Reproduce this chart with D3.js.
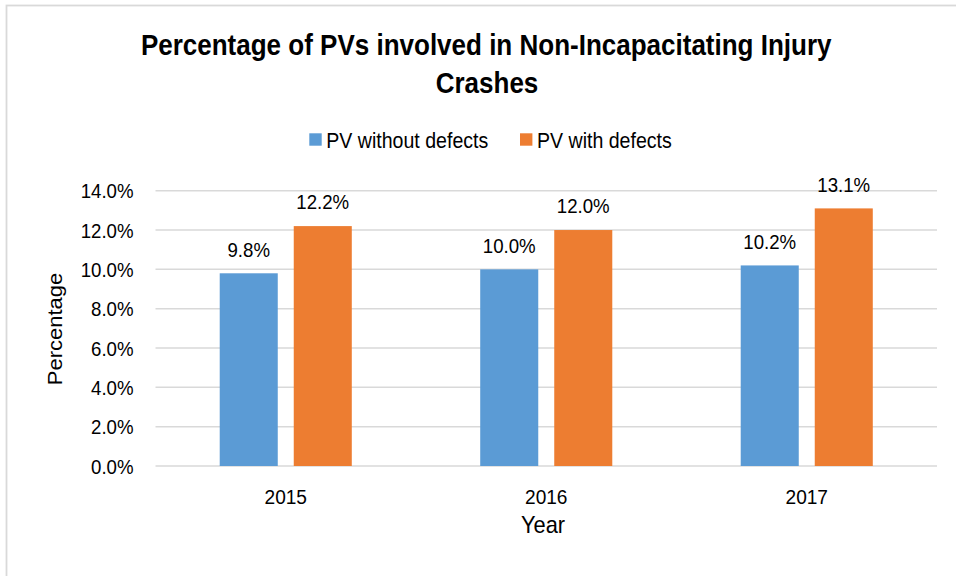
<!DOCTYPE html>
<html>
<head>
<meta charset="utf-8">
<script src="https://cdn.jsdelivr.net/npm/d3@7"></script>
<style>
  body { margin: 0; background: #fff; }
  text { font-family: "Liberation Sans", Arial, sans-serif; fill: #000; }
</style>
</head>
<body>
<svg width="956" height="576"></svg>
<script>
var years = ["2015", "2016", "2017"];
var seriesNames = ["PV without defects", "PV with defects"];
var withoutDefects = [9.8, 10.0, 10.2];
var withDefects = [12.2, 12.0, 13.1];
var yTicks = [0, 2, 4, 6, 8, 10, 12, 14];
var colors = ["#5b9bd5", "#ed7d31"];

var svg = d3.select("svg"),
    margin = {top: 190.7, right: 19, bottom: 110, left: 155.5},
    width = 956 - margin.left - margin.right,
    height = 466 - margin.top;
// text in the picture is a bit narrower than normal Arial
var squeeze = 0.91;

// frame round the chart, only top and left visible
svg.append("rect")
    .attr("x", 6.5).attr("y", 5.5)
    .attr("width", 1200).attr("height", 1200)
    .attr("fill", "none")
    .attr("stroke", "#d9d9d9")
    .attr("stroke-width", 1.8);

var x0 = d3.scaleBand().domain(years).range([0, width])
    .paddingInner(0.493).paddingOuter(0.2465);
var x1 = d3.scaleBand().domain(seriesNames).range([0, x0.bandwidth()])
    .paddingInner(0.216);
var y = d3.scaleLinear().domain([0, 14]).range([height, 0]);

var g = svg.append("g")
    .attr("transform", "translate(" + margin.left + "," + margin.top + ")");

// gridlines
g.append("g")
    .selectAll("line")
    .data(yTicks)
    .enter().append("line")
    .attr("x1", 0).attr("x2", width)
    .attr("y1", function (d) { return y(d); })
    .attr("y2", function (d) { return y(d); })
    .attr("stroke", "#d9d9d9")
    .attr("stroke-width", 1.5);

// y tick labels
g.append("g")
    .selectAll("text")
    .data(yTicks)
    .enter().append("text")
    .attr("text-anchor", "end")
    .attr("font-size", 20.5)
    .attr("transform", function (d) {
        return "translate(-22," + (y(d) + 7.5) + ") scale(" + squeeze + ",1)";
    })
    .text(function (d) { return d.toFixed(1) + "%"; });

// x tick labels
g.append("g")
    .selectAll("text")
    .data(years)
    .enter().append("text")
    .attr("text-anchor", "middle")
    .attr("font-size", 21)
    .attr("transform", function (d) {
        return "translate(" + (x0(d) + x0.bandwidth() / 2) + "," + (height + 37.5) + ") scale(" + squeeze + ",1)";
    })
    .text(function (d) { return d; });

var rows = years.map(function (yr, i) {
    return {year: yr, values: [withoutDefects[i], withDefects[i]]};
});

var groups = g.selectAll(".grp")
    .data(rows)
    .enter().append("g")
    .attr("class", "grp")
    .attr("transform", function (d) { return "translate(" + x0(d.year) + ",0)"; });

var cells = groups.selectAll(".cell")
    .data(function (d) {
        return d.values.map(function (v, k) { return {name: seriesNames[k], value: v, k: k}; });
    })
    .enter().append("g").attr("class", "cell");

cells.append("rect")
    .attr("x", function (d) { return x1(d.name); })
    .attr("y", function (d) { return y(d.value); })
    .attr("width", x1.bandwidth())
    .attr("height", function (d) { return height - y(d.value); })
    .attr("fill", function (d) { return colors[d.k]; });

cells.append("text")
    .attr("text-anchor", "middle")
    .attr("font-size", 20.5)
    .attr("transform", function (d) {
        return "translate(" + (x1(d.name) + x1.bandwidth() / 2) + "," + (y(d.value) - 16.7) + ") scale(" + squeeze + ",1)";
    })
    .text(function (d) { return d.value.toFixed(1) + "%"; });

// axis titles
svg.append("text")
    .attr("text-anchor", "middle")
    .attr("font-size", 24)
    .attr("transform", "translate(543,533) scale(" + squeeze + ",1)")
    .text("Year");

svg.append("text")
    .attr("text-anchor", "middle")
    .attr("font-size", 22)
    .attr("transform", "translate(61.5,329) scale(" + squeeze + ",1) rotate(-90)")
    .text("Percentage");

// legend
var legend = svg.append("g");
var legendX = [309.3, 520];
seriesNames.forEach(function (name, k) {
    legend.append("rect")
        .attr("x", legendX[k]).attr("y", 133.3)
        .attr("width", 12.4).attr("height", 12.4)
        .attr("fill", colors[k]);
    legend.append("text")
        .attr("font-size", 21.5)
        .attr("transform", "translate(" + (legendX[k] + 17) + ",147.7) scale(" + squeeze + ",1)")
        .text(name);
});

// title, two lines, condensed bold
var titleLines = ["Percentage of PVs involved in Non-Incapacitating Injury", "Crashes"];
var t1 = svg.append("text")
    .attr("text-anchor", "middle")
    .attr("font-size", 29.5)
    .attr("font-weight", "bold")
    .text(titleLines[0]);
var titleScale = 691 / t1.node().getComputedTextLength();
t1.attr("transform", "translate(486.2,55) scale(" + titleScale + ",1)");
svg.append("text")
    .attr("text-anchor", "middle")
    .attr("font-size", 29.5)
    .attr("font-weight", "bold")
    .attr("transform", "translate(487,92.5) scale(" + titleScale + ",1)")
    .text(titleLines[1]);
</script>
</body>
</html>
